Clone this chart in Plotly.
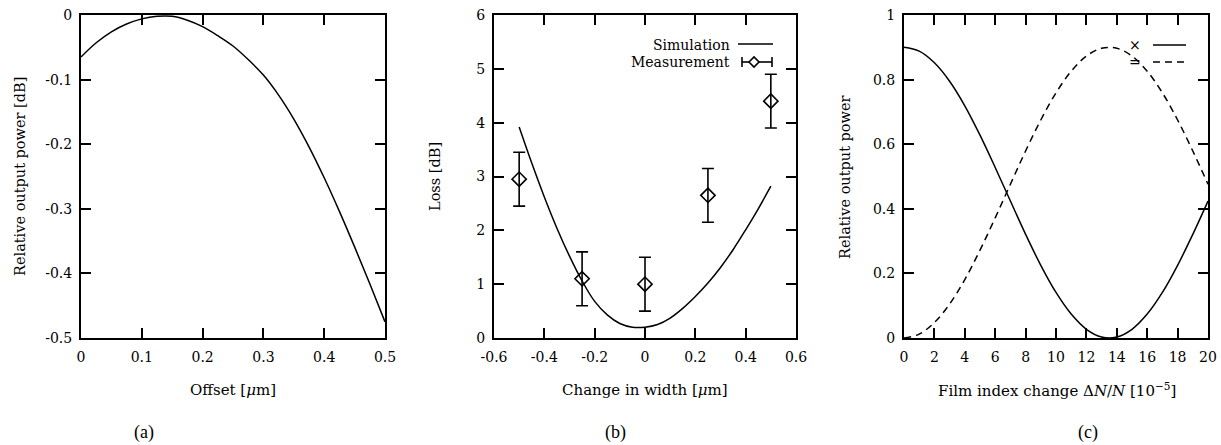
import plotly.graph_objects as go

# ---------------- data ----------------
# (a) relative output power vs offset
offset_um = [0.0, 0.025, 0.05, 0.075, 0.1, 0.125, 0.15, 0.175, 0.2, 0.225, 0.25,
             0.275, 0.3, 0.325, 0.35, 0.375, 0.4, 0.425, 0.45, 0.475, 0.5]
power_db = [-0.065, -0.043, -0.026, -0.014, -0.006, -0.002, -0.002, -0.008, -0.018,
            -0.032, -0.048, -0.069, -0.093, -0.124, -0.161, -0.204, -0.252, -0.304,
            -0.359, -0.416, -0.475]

# (b) loss vs change in width
width_sim = [-0.5, -0.45, -0.4, -0.35, -0.3, -0.25, -0.2, -0.15, -0.1, -0.05, 0.0,
             0.05, 0.1, 0.15, 0.2, 0.25, 0.3, 0.35, 0.4, 0.45, 0.5]
loss_sim = [3.92, 3.25, 2.62, 2.04, 1.52, 1.06, 0.68, 0.43, 0.27, 0.20, 0.20,
            0.25, 0.37, 0.55, 0.77, 1.02, 1.31, 1.64, 2.01, 2.40, 2.82]
width_meas = [-0.5, -0.25, 0.0, 0.25, 0.5]
loss_meas = [2.95, 1.1, 1.0, 2.65, 4.4]
loss_err = [0.5, 0.5, 0.5, 0.5, 0.5]

# (c) relative output power vs film index change
dn = [0, 1, 2, 3, 4, 5, 6, 7, 8, 9, 10, 11, 12, 13, 14, 15, 16, 17, 18, 19, 20]
p_cross = [0.90, 0.888, 0.852, 0.795, 0.719, 0.628, 0.528, 0.424, 0.321, 0.225, 0.141,
           0.074, 0.027, 0.003, 0.003, 0.027, 0.074, 0.141, 0.225, 0.321, 0.424]
p_bar = [0.0, 0.012, 0.048, 0.105, 0.181, 0.272, 0.372, 0.476, 0.579, 0.675, 0.759,
         0.826, 0.873, 0.897, 0.897, 0.873, 0.826, 0.759, 0.675, 0.579, 0.476]

# tick labels
a_xticks = [0, 0.1, 0.2, 0.3, 0.4, 0.5]
a_xtext = ["0", "0.1", "0.2", "0.3", "0.4", "0.5"]
a_yticks = [0, -0.1, -0.2, -0.3, -0.4, -0.5]
a_ytext = ["0", "-0.1", "-0.2", "-0.3", "-0.4", "-0.5"]
b_xticks = [-0.6, -0.4, -0.2, 0, 0.2, 0.4, 0.6]
b_xtext = ["-0.6", "-0.4", "-0.2", "0", "0.2", "0.4", "0.6"]
b_yticks = [0, 1, 2, 3, 4, 5, 6]
b_ytext = ["0", "1", "2", "3", "4", "5", "6"]
c_xticks = [0, 2, 4, 6, 8, 10, 12, 14, 16, 18, 20]
c_xtext = [str(v) for v in c_xticks]
c_yticks = [0, 0.2, 0.4, 0.6, 0.8, 1]
c_ytext = ["0", "0.2", "0.4", "0.6", "0.8", "1"]

# ---------------- figure ----------------
W, H = 1221, 445
FONT = "DejaVu Serif"
fig = go.Figure()

LW = 1.5
fig.add_trace(go.Scatter(x=offset_um, y=power_db, mode="lines", line=dict(color="black", width=LW, shape="spline"),
                         xaxis="x", yaxis="y", showlegend=False))
fig.add_trace(go.Scatter(x=width_sim, y=loss_sim, mode="lines", line=dict(color="black", width=LW, shape="spline"),
                         xaxis="x2", yaxis="y2", showlegend=False))
fig.add_trace(go.Scatter(x=width_meas, y=loss_meas, mode="markers",
                         marker=dict(symbol="diamond-open", size=11, color="black", line=dict(width=1.6, color="black")),
                         error_y=dict(type="data", array=loss_err, visible=True, color="black", thickness=1.6, width=6),
                         xaxis="x2", yaxis="y2", showlegend=False))
fig.add_trace(go.Scatter(x=dn, y=p_cross, mode="lines", line=dict(color="black", width=LW, shape="spline"),
                         xaxis="x3", yaxis="y3", showlegend=False))
fig.add_trace(go.Scatter(x=dn, y=p_bar, mode="lines", line=dict(color="black", width=LW, shape="spline", dash="7px,5px"),
                         xaxis="x3", yaxis="y3", showlegend=False))


def px2x(p):
    return p / W


def px2y(p):
    return (H - p) / H


y_dom = [px2y(338), px2y(15)]
doms = [[px2x(81), px2x(385)], [px2x(494), px2x(796)], [px2x(904), px2x(1208)]]

ax_common = dict(showline=True, linewidth=2, linecolor="black", mirror="allticks", ticks="inside",
                 ticklen=10, tickwidth=2, tickcolor="black", showgrid=False, zeroline=False,
                 tickfont=dict(family=FONT, size=14, color="black"), tickmode="array", fixedrange=True,
                 automargin=False)

fig.update_layout(
    template="none",
    width=W, height=H, margin=dict(l=0, r=0, t=0, b=0, pad=0), autosize=False,
    paper_bgcolor="white", plot_bgcolor="white", showlegend=False,
    xaxis=dict(domain=doms[0], range=[0, 0.5], tickvals=a_xticks, ticktext=a_xtext, anchor="y",
               ticklabelstandoff=5, **ax_common),
    yaxis=dict(domain=y_dom, range=[-0.5, 0], tickvals=a_yticks, ticktext=a_ytext, anchor="x",
               ticklabelstandoff=4, **ax_common),
    xaxis2=dict(domain=doms[1], range=[-0.6, 0.6], tickvals=b_xticks, ticktext=b_xtext, anchor="y2",
                ticklabelstandoff=5, **ax_common),
    yaxis2=dict(domain=y_dom, range=[0, 6], tickvals=b_yticks, ticktext=b_ytext, anchor="x2",
                ticklabelstandoff=4, **ax_common),
    xaxis3=dict(domain=doms[2], range=[0, 20], tickvals=c_xticks, ticktext=c_xtext, anchor="y3",
                ticklabelstandoff=5, **ax_common),
    yaxis3=dict(domain=y_dom, range=[0, 1], tickvals=c_yticks, ticktext=c_ytext, anchor="x3",
                ticklabelstandoff=4, **ax_common),
)

tf = dict(family=FONT, size=15, color="black")
yf = dict(family=FONT, size=14.5, color="black")
lf = dict(family=FONT, size=14, color="black")
cap = dict(family="Liberation Serif", size=18, color="black")
ann = []
# x-axis titles
ann.append(dict(x=px2x(233), y=px2y(390), text="Offset [<i>μ</i>m]", font=tf))
ann.append(dict(x=px2x(645), y=px2y(390), text="Change in width [<i>μ</i>m]", font=tf))
ann.append(dict(x=px2x(1057), y=px2y(390), text="Film index change Δ<i>N</i>/<i>N</i> [10<sup>−5</sup>]", font=tf))
# y-axis titles
ann.append(dict(x=px2x(20), y=px2y(177), text="Relative output power [dB]", textangle=-90, font=yf))
ann.append(dict(x=px2x(435), y=px2y(177), text="Loss [dB]", textangle=-90, font=yf))
ann.append(dict(x=px2x(845), y=px2y(177), text="Relative output power", textangle=-90, font=yf))
# captions
ann.append(dict(x=px2x(144), y=px2y(432), text="(a)", font=cap))
ann.append(dict(x=px2x(615), y=px2y(432), text="(b)", font=cap))
ann.append(dict(x=px2x(1088), y=px2y(432), text="(c)", font=cap))
# legend texts (b)
ann.append(dict(x=px2x(732), y=px2y(45), text="Simulation", font=lf, xanchor="right"))
ann.append(dict(x=px2x(732), y=px2y(62), text="Measurement", font=lf, xanchor="right"))
# legend texts (c)
ann.append(dict(x=px2x(1135), y=px2y(45), text="×", font=lf))
ann.append(dict(x=px2x(1135), y=px2y(62), text="=", font=lf))
for a in ann:
    a.setdefault("xanchor", "center")
    a.update(xref="paper", yref="paper", yanchor="middle", showarrow=False)
fig.update_layout(annotations=ann)

shapes = []
blk = dict(color="black", width=1.5)
# (b) legend samples
shapes.append(dict(type="line", x0=px2x(738), x1=px2x(773), y0=px2y(44), y1=px2y(44), line=blk))
shapes.append(dict(type="line", x0=px2x(742), x1=px2x(772), y0=px2y(62), y1=px2y(62), line=dict(color="black", width=1.6)))
shapes.append(dict(type="line", x0=px2x(742), x1=px2x(742), y0=px2y(57), y1=px2y(67), line=dict(color="black", width=1.6)))
shapes.append(dict(type="line", x0=px2x(772), x1=px2x(772), y0=px2y(57), y1=px2y(67), line=dict(color="black", width=1.6)))
cx, cy, r = 754, 62, 5
path = "M {} {} L {} {} L {} {} L {} {} Z".format(px2x(cx - r), px2y(cy), px2x(cx), px2y(cy - r),
                                                   px2x(cx + r), px2y(cy), px2x(cx), px2y(cy + r))
shapes.append(dict(type="path", path=path, fillcolor="white", line=dict(color="black", width=1.6)))
# (c) legend samples
shapes.append(dict(type="line", x0=px2x(1153), x1=px2x(1186), y0=px2y(45), y1=px2y(45), line=blk))
shapes.append(dict(type="line", x0=px2x(1153), x1=px2x(1186), y0=px2y(62), y1=px2y(62),
                   line=dict(color="black", width=1.5, dash="7px,5px")))
for s in shapes:
    s.update(xref="paper", yref="paper")
fig.update_layout(shapes=shapes)

fig.write_html("out.html",
               config={"displayModeBar": False, "staticPlot": True},
               post_script="document.body.style.margin='0';document.body.style.padding='0';"
                           "document.documentElement.style.overflow='hidden';")
